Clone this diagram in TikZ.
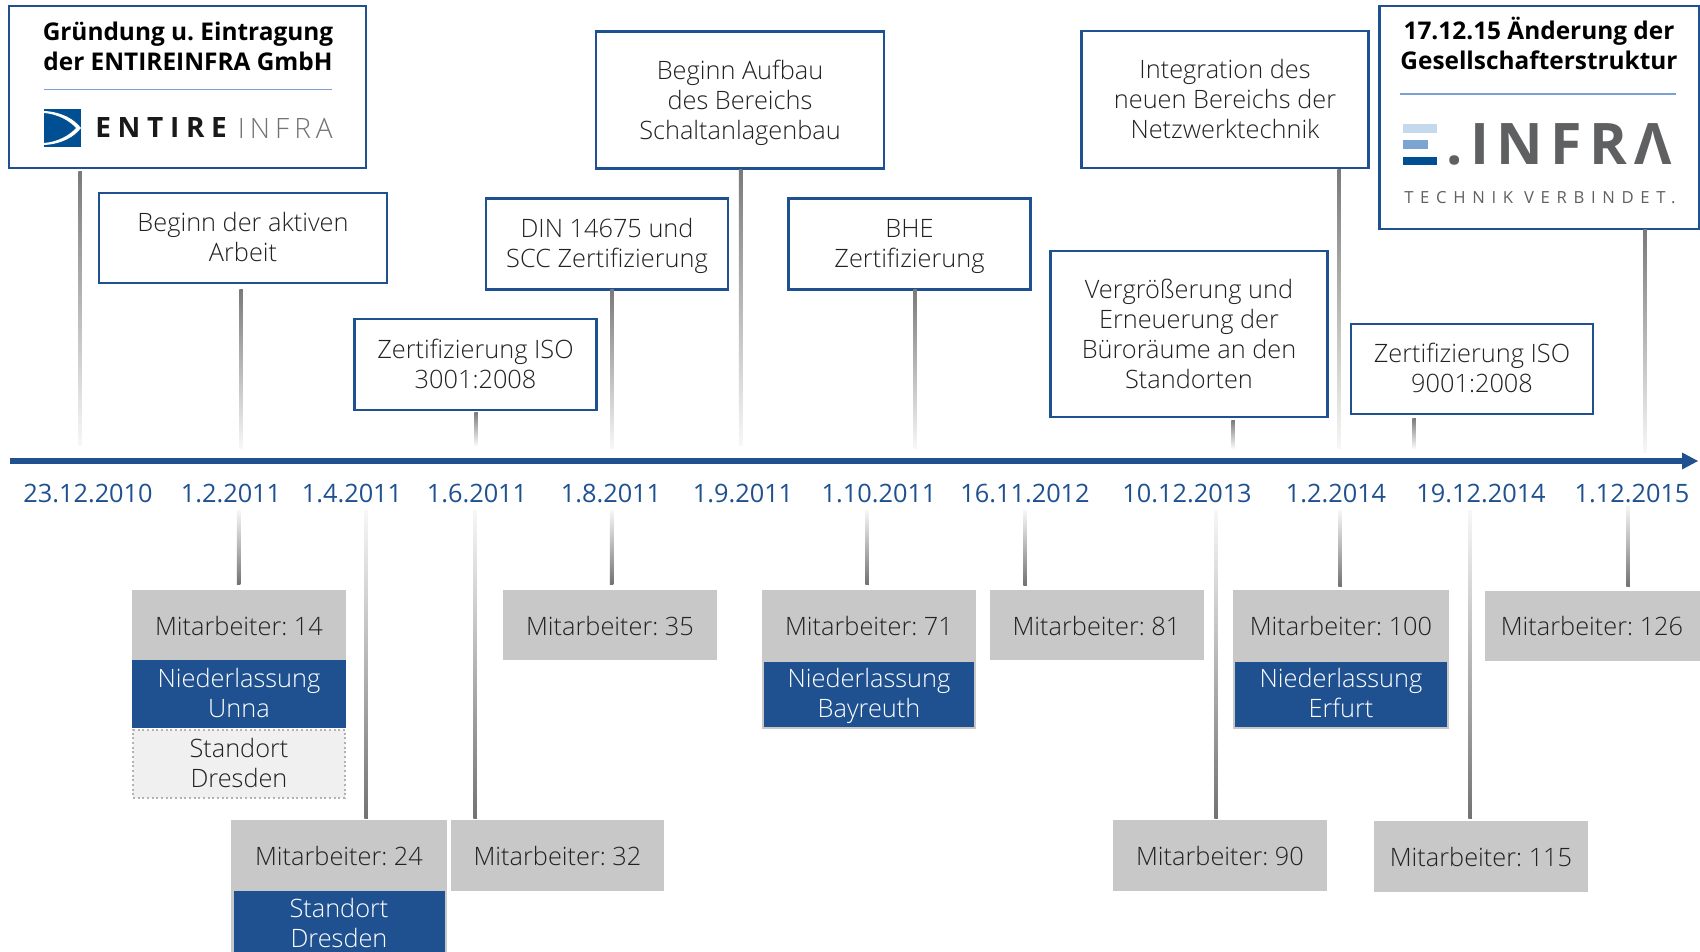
\documentclass[tikz,border=0pt]{standalone}
\usepackage{fontspec}
\setmainfont{Open Sans Light}
\newfontfamily\regfont{Open Sans}
\definecolor{nblue}{HTML}{1F5190}
\definecolor{lgray}{HTML}{C8C8C8}
\definecolor{dgray}{HTML}{5F6062}
\definecolor{ink}{HTML}{222222}
\definecolor{rulec}{HTML}{7AA0D4}
\def\px{0.75pt}
\newcommand\fs{\fontsize{19pt}{22.6pt}\selectfont\frenchspacing}
\tikzset{
  x=0.75pt,y=-0.75pt,
  lineone/.style={text height=21.5pt,text depth=6pt},
  linetwo/.style={text height=41.6pt,text depth=6pt},
  linethree/.style={text height=65pt,text depth=6pt},
  linefour/.style={text height=87.8pt,text depth=6pt},
  evbox/.style={draw=nblue,line width=2.6*\px,fill=white,align=center,inner sep=0pt,text=ink,font=\fs},
  grbox/.style={fill=lgray,align=center,inner sep=0pt,text=ink,font=\fs,lineone},
  blbox/.style={fill=nblue,draw=lgray,line width=2*\px,align=center,inner sep=0pt,text=white,font=\fs,linetwo},
  dtbox/.style={fill=black!6,draw=black!30,dotted,line width=2*\px,align=center,inner sep=0pt,text=ink,font=\fs,linetwo},
  datelbl/.style={inner sep=0pt,text=nblue,font=\regfont\fontsize{19pt}{22.6pt}\selectfont},
  titlelbl/.style={inner sep=0pt,align=center,text=black,font=\regfont\bfseries\fontsize{18.3pt}{22.6pt}\selectfont\frenchspacing,linetwo},
  conbase/.style={line width=3.5*\px,draw=black!5},
}
\newcommand\upconn[2]{%
  \draw[conbase] (#1) -- (#2);
  \shade[top color=black!52,bottom color=black!3] ([xshift=-1.75*\px]#1) rectangle ([xshift=1.75*\px]#2);}
\newcommand\dnconn[2]{%
  \draw[conbase] (#1) -- (#2);
  \shade[top color=black!3,bottom color=black!55] ([xshift=-1.75*\px]#1) rectangle ([xshift=1.75*\px]#2);}
\begin{document}
\begin{tikzpicture}
\useasboundingbox (0,0) rectangle (1700,952);
\fill[white] (0,0) rectangle (1700,952);
% axis
\coordinate (axL) at (10,461);
\coordinate (axR) at (1698,461);
\draw[nblue,line width=6*\px] (axL) -- (1684,461);
\fill[nblue] (1682,452.5) -- (axR) -- (1682,469.5) -- cycle;
% upper boxes
\node[evbox,minimum width=357*\px,minimum height=162*\px] (b1) at (187.5,87) {};
\node[evbox,linetwo,minimum width=288*\px,minimum height=90*\px] (b2) at (243,238) {Beginn der aktiven\\Arbeit};
\node[evbox,linetwo,minimum width=242*\px,minimum height=91*\px] (b3) at (475.5,364.5) {Zertifizierung ISO\\3001:2008};
\node[evbox,linetwo,minimum width=242*\px,minimum height=91*\px] (b4) at (607,244) {DIN 14675 und\\SCC Zertifizierung};
\node[evbox,linethree,minimum width=288*\px,minimum height=137*\px] (b5) at (740,100) {Beginn Aufbau\\des Bereichs\\Schaltanlagenbau};
\node[evbox,linetwo,minimum width=242*\px,minimum height=91*\px] (b6) at (909.5,244) {BHE\\Zertifizierung};
\node[evbox,linefour,minimum width=277*\px,minimum height=166*\px] (b7) at (1189,334) {Vergrößerung und\\Erneuerung der\\Büroräume an den\\Standorten};
\node[evbox,linethree,minimum width=287*\px,minimum height=137*\px] (b8) at (1225,99.5) {Integration des\\neuen Bereichs der\\Netzwerktechnik};
\node[evbox,linetwo,minimum width=242*\px,minimum height=90*\px] (b9) at (1472,369) {Zertifizierung ISO\\9001:2008};
\node[evbox,minimum width=320*\px,minimum height=223*\px] (b10) at (1539.5,117.5) {};
% box 1 content
\node[titlelbl] (t1) at (188,47) {Gründung u. Eintragung\\der ENTIREINFRA GmbH};
\coordinate (r1a) at (44,89.5); \coordinate (r1b) at (332,89.5);
\draw[rulec,line width=1.2*\px] (r1a) -- (r1b);
\fill[fill={rgb,255:red,0;green,79;blue,146}] (44,109) rectangle (81,147);
\fill[white] (44,111) .. controls (62,112) and (74,119) .. (81,128) .. controls (74,137) and (62,144) .. (44,145) -- (44,143) .. controls (58,142) and (70,135) .. (76,128) .. controls (70,121) and (58,114) .. (44,113) -- cycle;
\node[anchor=west,inner sep=0pt,text=black!90,font=\regfont\bfseries\fontsize{21pt}{24pt}\selectfont\addfontfeature{LetterSpace=24}] (logoa) at (95,128) {ENTIRE};
\node[anchor=east,inner sep=0pt,text=black!55,font=\fontsize{21pt}{24pt}\selectfont\addfontfeature{LetterSpace=18}] (logob) at (333,128) {INFRA};
% box 10 content
\node[titlelbl] (t10) at (1539,46) {17.12.15 Änderung der\\Gesellschafterstruktur};
\coordinate (r2a) at (1400,94); \coordinate (r2b) at (1676,94);
\draw[rulec,line width=1.2*\px] (r2a) -- (r2b);
\fill[fill={rgb,255:red,197;green,217;blue,237}] (1403,124) rectangle (1437,133);
\fill[fill={rgb,255:red,123;green,164;blue,208}] (1403,140) rectangle (1428,149);
\fill[fill={rgb,255:red,0;green,79;blue,146}] (1403,157) rectangle (1437,165);
\node[anchor=west,inner sep=0pt,text=dgray,font=\regfont\bfseries\fontsize{43pt}{48pt}\selectfont\addfontfeature{LetterSpace=13}] (logoc) at (1446,144) {.INFRΛ};
\node[anchor=center,inner sep=0pt,text=dgray,font=\regfont\fontsize{12.5pt}{15pt}\selectfont\addfontfeature{LetterSpace=40}] (logod) at (1540,198) {TECHNIK VERBINDET.};
% date labels
\foreach \nm/\xx/\tx in {d1/88/23.12.2010,d2/231/1.2.2011,d3/352/1.4.2011,d4/477/1.6.2011,d5/611/1.8.2011,d6/743/1.9.2011,d7/879/1.10.2011,d8/1025/16.11.2012,d9/1187/10.12.2013,d10/1336/1.2.2014,d11/1481/19.12.2014,d12/1632/1.12.2015}
  \node[datelbl] (\nm) at (\xx,493) {\tx};
% lower boxes
\node[grbox,minimum width=214*\px,minimum height=70*\px] (m14) at (239,625) {Mitarbeiter: 14};
\node[blbox,draw=none,minimum width=214*\px,minimum height=68*\px] (n14) at (239,694) {Niederlassung\\Unna};
\node[dtbox,minimum width=212*\px,minimum height=68*\px] (s14) at (239,764) {Standort\\Dresden};
\node[grbox,minimum width=216*\px,minimum height=71*\px] (m24) at (339,855.5) {Mitarbeiter: 24};
\path[fill=lgray] (231,891) rectangle (447,952);
\node[blbox,draw=none,minimum width=211*\px,minimum height=66*\px] (n24) at (339,924) {Standort\\Dresden};
\node[grbox,minimum width=213*\px,minimum height=71*\px] (m32) at (557.5,855.5) {Mitarbeiter: 32};
\node[grbox,minimum width=214*\px,minimum height=70*\px] (m35) at (610,625) {Mitarbeiter: 35};
\node[grbox,minimum width=214*\px,minimum height=70*\px] (m71) at (869,625) {Mitarbeiter: 71};
\node[blbox,minimum width=212*\px,minimum height=67*\px] (n71) at (869,694) {Niederlassung\\Bayreuth};
\node[grbox,minimum width=214*\px,minimum height=70*\px] (m81) at (1096.5,625) {Mitarbeiter: 81};
\node[grbox,minimum width=216*\px,minimum height=70*\px] (m100) at (1341,625) {Mitarbeiter: 100};
\node[blbox,minimum width=214*\px,minimum height=67*\px] (n100) at (1341,694) {Niederlassung\\Erfurt};
\node[grbox,minimum width=214*\px,minimum height=71*\px] (m90) at (1220,855.5) {Mitarbeiter: 90};
\node[grbox,minimum width=214*\px,minimum height=71*\px] (m115) at (1481,856.5) {Mitarbeiter: 115};
\node[grbox,minimum width=215*\px,minimum height=70*\px] (m126) at (1592,625.5) {Mitarbeiter: 126};
% upper connectors
\foreach \nm/\xx/\yt/\yb in {u1/80/172/445,u2/241/290/448,u3/476/412/445,u4/612/290/448,u5/740.5/170/445,u6/915/290/448,u7/1233/420/448,u8/1339/170/448,u9/1414/418/448,u10/1645/230/452}{
  \coordinate (\nm a) at (\xx,\yt); \coordinate (\nm b) at (\xx,\yb);
  \upconn{\nm a}{\nm b}
}
% lower connectors
\foreach \nm/\xx/\yt/\yb in {l1/238.5/510/584,l2/366/510/818,l3/475/510/818,l4/611.5/510/584,l5/867/510/584,l6/1025/510/585,l7/1216/510/818,l8/1340/510/586,l9/1470/510/818,l10/1628/505/586}{
  \coordinate (\nm a) at (\xx,\yt); \coordinate (\nm b) at (\xx,\yb);
  \dnconn{\nm a}{\nm b}
}
\end{tikzpicture}
\end{document}
